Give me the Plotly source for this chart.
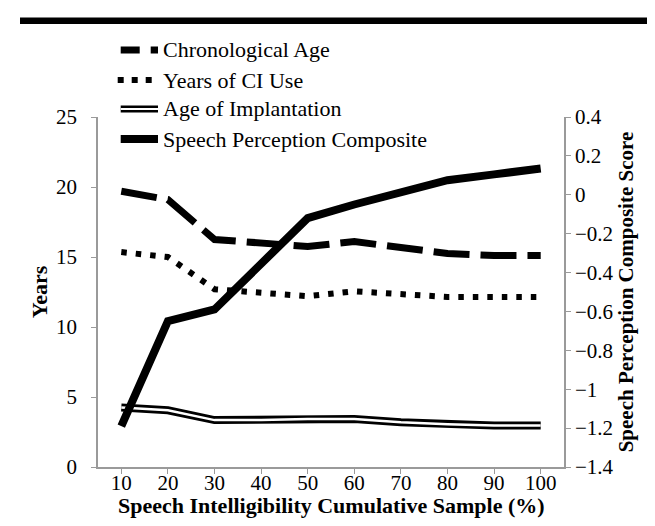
import plotly.graph_objects as go

# --- data ---
sample_pct = [10, 20, 30, 40, 50, 60, 70, 80, 90, 100]
chronological_age = [19.7, 19.1, 16.25, 15.95, 15.75, 16.1, 15.65, 15.25, 15.1, 15.1]
years_ci_use = [15.35, 15.0, 12.7, 12.5, 12.2, 12.55, 12.35, 12.15, 12.15, 12.15]
age_implantation = [4.25, 4.05, 3.35, 3.35, 3.43, 3.43, 3.2, 3.05, 2.97, 2.97]
speech_composite = [-1.19, -0.65, -0.59, -0.36, -0.12, -0.05, 0.01, 0.075, 0.105, 0.135]

legend_labels = ["Chronological Age", "Years of CI Use",
                 "Age of Implantation", "Speech Perception Composite"]

left_ticks = [0, 5, 10, 15, 20, 25]
right_ticks = [-1.4, -1.2, -1.0, -0.8, -0.6, -0.4, -0.2, 0, 0.2, 0.4]

FONT = "Liberation Serif"
AXIS_GREY = "#9a9a9a"

W, H = 655, 526
ML, MR, MT, MB = 90, 99, 109, 67
PW, PH = W - ML - MR, H - MT - MB


def px(x):
    return (x - ML) / PW


def py(y):
    return (H - MB - y) / PH


fig = go.Figure()

fig.add_trace(go.Scatter(x=sample_pct, y=chronological_age, mode="lines",
                         line=dict(color="black", width=7, dash="36px,11px"),
                         showlegend=False))
fig.add_trace(go.Scatter(x=sample_pct, y=years_ci_use, mode="lines",
                         line=dict(color="black", width=6, dash="5.5px,9px"),
                         showlegend=False))
# double line: thick black with a thin white core
fig.add_trace(go.Scatter(x=sample_pct, y=age_implantation, mode="lines",
                         line=dict(color="black", width=8), showlegend=False))
fig.add_trace(go.Scatter(x=sample_pct, y=age_implantation, mode="lines",
                         line=dict(color="white", width=2.5), showlegend=False))
fig.add_trace(go.Scatter(x=sample_pct, y=speech_composite, mode="lines",
                         yaxis="y2", line=dict(color="black", width=8),
                         showlegend=False))

# hand-drawn legend above the plot
rows = [42, 72, 101, 131]
x0, x1 = 112.7, 150
shapes = [
    # heavy rule across the top of the page
    dict(type="rect", xref="paper", yref="paper", x0=px(12), x1=px(655),
         y0=py(16), y1=py(9.5), fillcolor="black", line=dict(width=0)),
    dict(type="line", xref="paper", yref="paper", x0=px(x0), x1=px(x1),
         y0=py(rows[0]), y1=py(rows[0]),
         line=dict(color="black", width=7, dash="19px,11px")),
    dict(type="line", xref="paper", yref="paper", x0=px(x0 - 3), x1=px(x1 - 5),
         y0=py(rows[1]), y1=py(rows[1]),
         line=dict(color="black", width=6, dash="6px,8px")),
    dict(type="line", xref="paper", yref="paper", x0=px(x0), x1=px(x1),
         y0=py(rows[2]), y1=py(rows[2]), line=dict(color="black", width=7)),
    dict(type="line", xref="paper", yref="paper", x0=px(x0), x1=px(x1),
         y0=py(rows[2]), y1=py(rows[2]), line=dict(color="white", width=2.2)),
    dict(type="line", xref="paper", yref="paper", x0=px(x0), x1=px(x1),
         y0=py(rows[3]), y1=py(rows[3]), line=dict(color="black", width=8)),
]
annotations = [
    dict(text=lab, xref="paper", yref="paper", x=px(153), y=py(r),
         xanchor="left", yanchor="middle", showarrow=False,
         font=dict(family=FONT, size=22, color="black"))
    for lab, r in zip(legend_labels, rows)
]
# x-axis title placed by hand so it sits close under the tick labels
annotations.append(dict(
    text="<b>Speech Intelligibility Cumulative Sample (%)</b>",
    xref="paper", yref="paper", x=0.5, y=py(497), xanchor="center",
    yanchor="middle", showarrow=False,
    font=dict(family=FONT, size=22, color="black")))

fig.update_layout(
    width=W, height=H,
    margin=dict(l=ML, r=MR, t=MT, b=MB, autoexpand=False),
    paper_bgcolor="white", plot_bgcolor="white",
    font=dict(family=FONT, size=21, color="black"),
    shapes=shapes, annotations=annotations,
    xaxis=dict(range=[5, 105], tickvals=sample_pct, ticks="outside", ticklen=5,
               tickcolor=AXIS_GREY, showline=True, linecolor=AXIS_GREY,
               linewidth=1.5, showgrid=False, zeroline=False,
               tickfont=dict(size=21), ticklabelstandoff=-9),
    yaxis=dict(range=[0, 25], tickvals=left_ticks, ticks="outside", ticklen=5,
               tickcolor=AXIS_GREY, showline=True, linecolor=AXIS_GREY,
               linewidth=1.5, showgrid=False, zeroline=False,
               tickfont=dict(size=21), ticklabelstandoff=10,
               title=dict(text="<b>Years</b>", font=dict(size=22), standoff=2)),
    yaxis2=dict(range=[-1.4, 0.4], tickvals=right_ticks, overlaying="y",
                side="right", ticks="outside", ticklen=5, tickcolor=AXIS_GREY,
                showline=True, linecolor=AXIS_GREY, linewidth=1.5,
                showgrid=False, zeroline=False, tickfont=dict(size=21),
                title=dict(text="<b>Speech Perception Composite Score</b>",
                           font=dict(size=21), standoff=4)),
)

fig.write_html("out.html")
